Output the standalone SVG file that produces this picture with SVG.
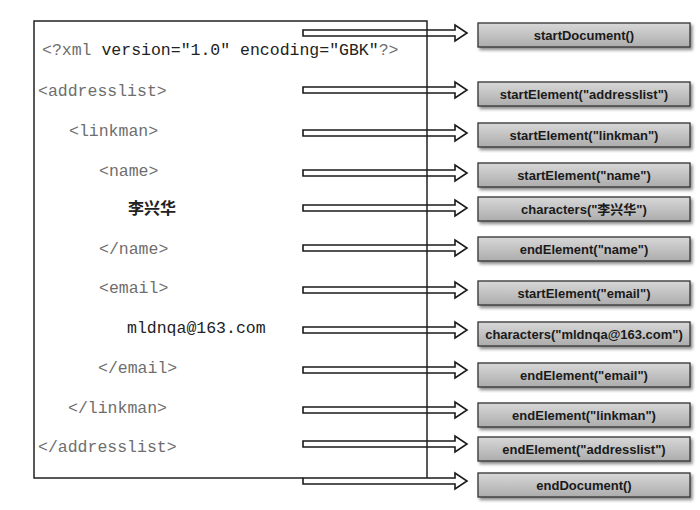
<svg xmlns="http://www.w3.org/2000/svg" width="700" height="510" viewBox="0 0 700 510">
<defs>
<linearGradient id="g" x1="0" y1="0" x2="0" y2="1">
<stop offset="0" stop-color="#d8d8d8"/>
<stop offset="1" stop-color="#acacac"/>
</linearGradient>
<filter id="sh" x="-5%" y="-20%" width="115%" height="160%">
<feDropShadow dx="2" dy="2.5" stdDeviation="1.5" flood-color="#000" flood-opacity="0.45"/>
</filter>
<polygon id="arr" points="303,-3 455,-3 455,-8 467,0 455,8 455,3 303,3"/>
</defs>
<style>
.frame{fill:none;stroke:#222;stroke-width:1.5}
.tag{font-family:"Liberation Mono","Courier New",monospace;font-size:16.5px;fill:#6e6e6e}
.val{font-family:"Liberation Mono","Courier New",monospace;font-size:16.5px;fill:#222}
.cjk{font-family:"Noto Sans CJK SC",sans-serif;font-size:16px;font-weight:bold;fill:#222}
.box{fill:url(#g);stroke:#333;stroke-width:1.3;filter:url(#sh)}
.lbl{font-family:"Liberation Sans","Noto Sans CJK SC",sans-serif;font-size:13px;font-weight:bold;fill:#1a1a1a;text-anchor:middle}
.arrow{fill:#fff;stroke:#1a1a1a;stroke-width:1.6;stroke-linejoin:miter}
</style>
<rect width="700" height="510" fill="#fff"/>

<g id="xml-source">
<text class="tag" x="42" y="55">&lt;?xml <tspan class="val">version="1.0" encoding="GBK"</tspan>?&gt;</text>
<text class="tag" x="38" y="96">&lt;addresslist&gt;</text>
<text class="tag" x="69" y="136">&lt;linkman&gt;</text>
<text class="tag" x="99" y="176">&lt;name&gt;</text>
<text class="cjk" x="128" y="214">李兴华</text>
<text class="tag" x="99" y="254">&lt;/name&gt;</text>
<text class="tag" x="99" y="293">&lt;email&gt;</text>
<text class="val" x="127" y="333">mldnqa@163.com</text>
<text class="tag" x="98" y="373">&lt;/email&gt;</text>
<text class="tag" x="68" y="413">&lt;/linkman&gt;</text>
<text class="tag" x="38" y="452">&lt;/addresslist&gt;</text>
</g>

<g id="connectors">
<use href="#arr" class="arrow" transform="translate(0,33)"/>
<use href="#arr" class="arrow" transform="translate(0,90)"/>
<use href="#arr" class="arrow" transform="translate(0,133)"/>
<use href="#arr" class="arrow" transform="translate(0,173)"/>
<use href="#arr" class="arrow" transform="translate(0,208)"/>
<use href="#arr" class="arrow" transform="translate(0,248)"/>
<use href="#arr" class="arrow" transform="translate(0,290)"/>
<use href="#arr" class="arrow" transform="translate(0,330)"/>
<use href="#arr" class="arrow" transform="translate(0,370)"/>
<use href="#arr" class="arrow" transform="translate(0,410)"/>
<use href="#arr" class="arrow" transform="translate(0,444)"/>
<use href="#arr" class="arrow" transform="translate(0,481)"/>
<path class="frame" d="M303,478 H34 V21 H427 V478"/>
</g>

<g id="n-startDocument"><rect class="box" x="478" y="23" width="212" height="24"/><text class="lbl" x="584" y="40">startDocument()</text></g>
<g id="n-startAddresslist"><rect class="box" x="478" y="82" width="212" height="24"/><text class="lbl" x="584" y="99">startElement("addresslist")</text></g>
<g id="n-startLinkman"><rect class="box" x="478" y="123" width="212" height="24"/><text class="lbl" x="584" y="140">startElement("linkman")</text></g>
<g id="n-startName"><rect class="box" x="478" y="163" width="212" height="24"/><text class="lbl" x="584" y="180">startElement("name")</text></g>
<g id="n-charName"><rect class="box" x="478" y="197" width="212" height="24"/><text class="lbl" x="584" y="214">characters("李兴华")</text></g>
<g id="n-endName"><rect class="box" x="478" y="237" width="212" height="24"/><text class="lbl" x="584" y="254">endElement("name")</text></g>
<g id="n-startEmail"><rect class="box" x="478" y="281" width="212" height="24"/><text class="lbl" x="584" y="298">startElement("email")</text></g>
<g id="n-charEmail"><rect class="box" x="478" y="322" width="212" height="24"/><text class="lbl" x="584" y="339">characters("mldnqa@163.com")</text></g>
<g id="n-endEmail"><rect class="box" x="478" y="363" width="212" height="24"/><text class="lbl" x="584" y="380">endElement("email")</text></g>
<g id="n-endLinkman"><rect class="box" x="478" y="403" width="212" height="24"/><text class="lbl" x="584" y="420">endElement("linkman")</text></g>
<g id="n-endAddresslist"><rect class="box" x="478" y="437" width="212" height="24"/><text class="lbl" x="584" y="454">endElement("addresslist")</text></g>
<g id="n-endDocument"><rect class="box" x="478" y="473" width="212" height="24"/><text class="lbl" x="584" y="490">endDocument()</text></g>
</svg>
